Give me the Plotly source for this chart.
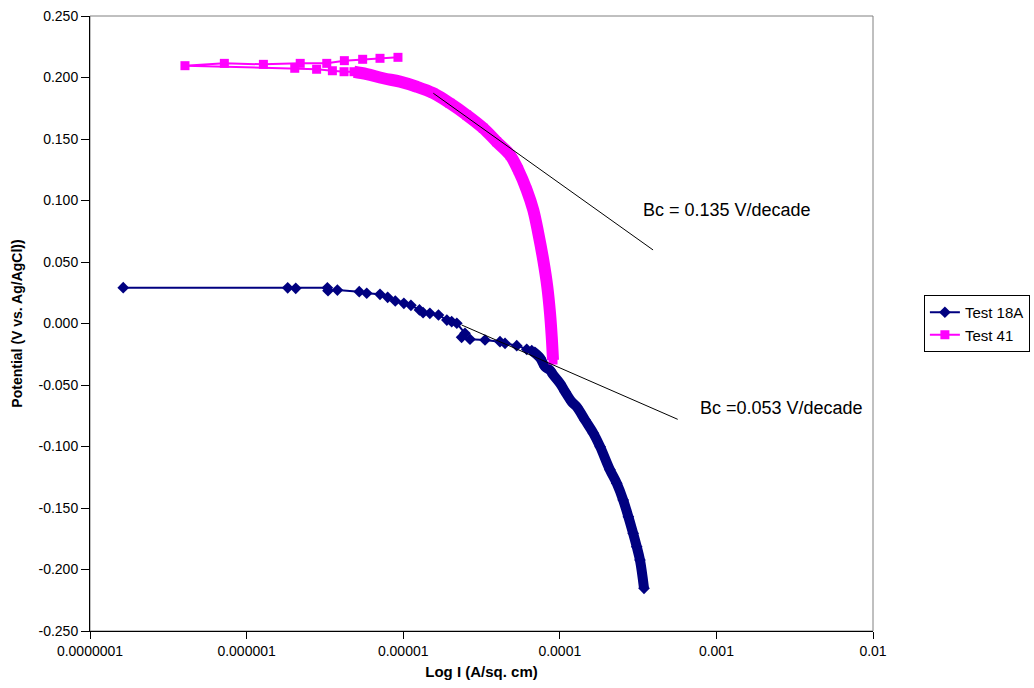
import plotly.graph_objects as go

# ---- Data ----
# Test 18A: current density (A/sq. cm) and potential (V vs Ag/AgCl)
t18_i = [1.63e-7, 1.83e-6, 2.06e-6, 3.28e-6, 3.31e-6, 3.80e-6, 5.24e-6, 5.85e-6, 7.11e-6,
         7.96e-6, 8.90e-6, 1.01e-5, 1.12e-5, 1.27e-5, 1.34e-5, 1.48e-5, 1.68e-5, 1.90e-5,
         2.04e-5, 2.20e-5, 2.48e-5, 2.36e-5, 2.67e-5, 3.33e-5, 4.15e-5, 4.47e-5, 5.31e-5,
         6.15e-5, 6.62e-5,
         7.48e-5, 8.04e-5, 8.66e-5, 9.09e-5, 1.003e-4, 1.08e-4, 1.19e-4, 1.28e-4, 1.45e-4,
         1.64e-4, 1.81e-4, 2.09e-4, 2.31e-4, 2.54e-4, 2.74e-4, 2.94e-4, 3.10e-4, 3.25e-4, 3.45e-4]
t18_v = [0.0291, 0.0290, 0.0286, 0.0290, 0.0267, 0.0272, 0.0259, 0.0246, 0.0237,
         0.0213, 0.0183, 0.0164, 0.0148, 0.0110, 0.0088, 0.0083, 0.0069, 0.0028,
         0.0015, 0.0002, -0.0080, -0.0112, -0.0128, -0.0134, -0.0148, -0.0161, -0.0180,
         -0.0210, -0.0220,
         -0.0280, -0.0351, -0.0380, -0.0419, -0.0486, -0.0554, -0.0636, -0.0676, -0.0785,
         -0.0893, -0.1002, -0.1190, -0.1299, -0.1435, -0.1571, -0.1706, -0.1815, -0.1923, -0.2153]
t18_dense_start = 28  # index where the dense (thick) part of the curve begins

# Test 41
t41_i = [9.26e-6, 7.11e-6, 5.51e-6, 4.21e-6, 3.25e-6, 2.20e-6, 1.28e-6, 7.21e-7, 4.04e-7,
         2.03e-6, 2.80e-6, 3.53e-6, 4.19e-6, 4.85e-6,
         5.85e-6, 7.46e-6, 9.54e-6, 1.22e-5, 1.557e-5, 1.99e-5, 2.54e-5, 3.25e-5, 3.95e-5,
         4.81e-5, 5.43e-5, 6.15e-5, 6.77e-5, 7.29e-5, 7.84e-5, 8.32e-5, 8.66e-5, 8.88e-5, 9.05e-5]
t41_v = [0.2164, 0.2156, 0.2148, 0.2137, 0.2115, 0.2115, 0.2107, 0.2115, 0.2096,
         0.2075, 0.2067, 0.2055, 0.2047, 0.2047,
         0.2028, 0.1994, 0.1966, 0.1925, 0.1872, 0.1790, 0.1695, 0.1587, 0.1478,
         0.1370, 0.1248, 0.1085, 0.0923, 0.0733, 0.0516, 0.0299, 0.0083, -0.0107, -0.0297]
t41_dense_start = 13

# Tafel tangent lines (endpoints)
tafel41_i = [1.557e-5, 3.94e-4]
tafel41_v = [0.1872, 0.0598]
tafel18_i = [2.36e-5, 5.66e-4]
tafel18_v = [-0.0012, -0.0779]

# Labels for the Tafel slopes (position in log10(I), V)
label_text = ["Bc = 0.135 V/decade", "Bc =0.053 V/decade"]
label_logi = [-3.482, -3.117]
label_v = [0.0923, -0.0687]

# Axis ticks
x_tickvals = [1e-7, 1e-6, 1e-5, 1e-4, 1e-3, 1e-2]
x_ticktext = ["0.0000001", "0.000001", "0.00001", "0.0001", "0.001", "0.01"]
y_tickvals = [0.25, 0.2, 0.15, 0.1, 0.05, 0.0, -0.05, -0.1, -0.15, -0.2, -0.25]
y_ticktext = ["0.250", "0.200", "0.150", "0.100", "0.050", "0.000",
              "-0.050", "-0.100", "-0.150", "-0.200", "-0.250"]

NAVY = "#000080"
MAGENTA = "#FF00FF"
FONT = "Arial, Liberation Sans, sans-serif"

fig = go.Figure()

# thick dense bands
fig.add_trace(go.Scatter(x=t41_i[t41_dense_start:], y=t41_v[t41_dense_start:], mode="lines",
                         line=dict(color=MAGENTA, width=12, shape="spline"),
                         showlegend=False, hoverinfo="skip"))
fig.add_trace(go.Scatter(x=t18_i[t18_dense_start:], y=t18_v[t18_dense_start:], mode="lines",
                         line=dict(color=NAVY, width=10, shape="spline"),
                         showlegend=False, hoverinfo="skip"))

fig.add_trace(go.Scatter(x=t18_i, y=t18_v, mode="lines+markers", name="Test 18A",
                         line=dict(color=NAVY, width=2),
                         marker=dict(symbol="diamond", size=9, color=NAVY)))
fig.add_trace(go.Scatter(x=t41_i, y=t41_v, mode="lines+markers", name="Test 41",
                         line=dict(color=MAGENTA, width=2),
                         marker=dict(symbol="square", size=9, color=MAGENTA)))

# Tafel lines
fig.add_trace(go.Scatter(x=tafel41_i, y=tafel41_v, mode="lines",
                         line=dict(color="black", width=1), showlegend=False, hoverinfo="skip"))
fig.add_trace(go.Scatter(x=tafel18_i, y=tafel18_v, mode="lines",
                         line=dict(color="black", width=1), showlegend=False, hoverinfo="skip"))

for t, lx, ly in zip(label_text, label_logi, label_v):
    fig.add_annotation(x=lx, y=ly, xref="x", yref="y", text=t,
                       showarrow=False, xanchor="left", yanchor="middle",
                       font=dict(family=FONT, size=18, color="black"))

# gray plot-area frame (top/right)
fig.add_shape(type="rect", xref="paper", yref="paper", x0=0, x1=1, y0=0, y1=1,
              line=dict(color="#808080", width=1), layer="below")

fig.update_layout(
    width=1034, height=688,
    margin=dict(l=90, r=161, t=16, b=57, autoexpand=False),
    paper_bgcolor="white", plot_bgcolor="white",
    font=dict(family=FONT, size=14, color="black"),
    showlegend=True,
    legend=dict(x=1.065, y=0.5, xanchor="left", yanchor="middle",
                bordercolor="black", borderwidth=1, bgcolor="white",
                font=dict(family=FONT, size=15, color="black"),
                itemwidth=30, tracegroupgap=0),
)
fig.update_xaxes(type="log", range=[-7, -2], tickvals=x_tickvals, ticktext=x_ticktext,
                 showgrid=False, zeroline=False, showline=True, linecolor="black", linewidth=1,
                 ticks="outside", ticklen=7, tickcolor="black",
                 tickfont=dict(family=FONT, size=14),
                 title=dict(text="<b>Log I (A/sq. cm)</b>", font=dict(family=FONT, size=15), standoff=8))
fig.update_yaxes(range=[-0.25, 0.25], tickvals=y_tickvals, ticktext=y_ticktext,
                 showgrid=False, zeroline=False, showline=True, linecolor="black", linewidth=1,
                 ticks="outside", ticklen=8, tickcolor="black",
                 tickfont=dict(family=FONT, size=14),
                 title=dict(text="<b>Potential (V vs. Ag/AgCl))</b>", font=dict(family=FONT, size=14), standoff=12))

fig.write_html("out.html")
